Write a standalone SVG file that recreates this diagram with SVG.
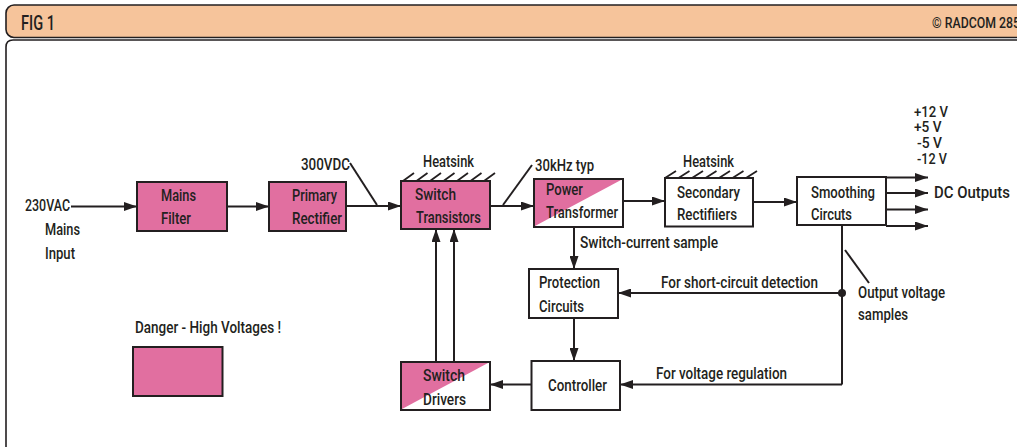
<svg xmlns="http://www.w3.org/2000/svg" width="1017" height="448" viewBox="0 0 1017 448">
  <style>
    .t { font-family: Roboto, "Liberation Sans", Arial, sans-serif; font-weight: 500; font-size: 16px; fill: #231F20; }
    .hd { font-size: 19.5px; }
    .cr { font-size: 15px; }
    .v { font-size: 14px; }
    .box { stroke: #231F20; stroke-width: 2; }
    .pink { fill: #E16FA0; }
    .white { fill: #FFFFFF; }
    .ln { fill: none; stroke: #231F20; stroke-width: 2; }
    .arr { fill: none; stroke: #231F20; stroke-width: 2; marker-end: url(#ah); }
    .hatch { fill: none; stroke: #231F20; stroke-width: 1.8; }
  </style>
  <defs>
    <marker id="ah" viewBox="0 0 13 9" refX="13" refY="4.5" markerWidth="13" markerHeight="9" markerUnits="userSpaceOnUse" orient="auto">
      <path d="M0,0 L13,4.5 L0,9 z" fill="#231F20"/>
    </marker>
  </defs>

  <rect width="1017" height="448" fill="#FFFFFF"/>

  <!-- figure frame: title band and body outline -->
  <g id="frame">
    <rect x="6" y="5" width="1030" height="32.5" rx="8" fill="#F6C49B" stroke="#231F20" stroke-width="1.6"/>
    <path d="M6,447 L6,47 Q6,40 13,40 L1030,40" fill="none" stroke="#231F20" stroke-width="1.6"/>
    <text class="t hd" x="21" y="30" textLength="34" lengthAdjust="spacingAndGlyphs">FIG 1</text>
    <text class="t cr" x="932" y="28" textLength="88" lengthAdjust="spacingAndGlyphs">© RADCOM 285</text>
  </g>

  <!-- connectors -->
  <g id="connectors">
    <path class="arr" d="M71,206.5 L137,206.5"/>
    <path class="arr" d="M227,206.5 L269,206.5"/>
    <path class="arr" d="M346,206 L401,206"/>
    <path class="ln" d="M350,163 L377,205"/>
    <path class="arr" d="M490,206 L534,206"/>
    <path class="ln" d="M503,205 L532,165"/>
    <path class="arr" d="M623,201 L665,201"/>
    <path class="arr" d="M753,202 L797,202"/>
    <path class="arr" d="M886,177.5 L928,177.5"/>
    <path class="arr" d="M886,193 L928,193"/>
    <path class="arr" d="M886,209.5 L928,209.5"/>
    <path class="arr" d="M886,226 L928,226"/>
    <path class="arr" d="M574,227 L574,269"/>
    <path class="arr" d="M574,318 L574,361"/>
    <path class="arr" d="M531,384.5 L490,384.5"/>
    <path class="arr" d="M436,362 L436,229"/>
    <path class="arr" d="M454,362 L454,229"/>
    <path class="ln" d="M842,225 L842,384.5"/>
    <path class="arr" d="M842,384.5 L620,384.5"/>
    <path class="arr" d="M842,293 L618,293"/>
    <circle cx="842" cy="293" r="4" fill="#231F20"/>
    <path class="ln" d="M845,250 L869,283"/>
    <!-- heatsink hatching -->
    <path class="hatch" d="M403,181 l11,-8 M416.5,181 l11,-8 M430,181 l11,-8 M443.5,181 l11,-8 M457,181 l11,-8 M470.5,181 l11,-8 M484,181 l11,-8"/>
    <path class="hatch" d="M665,178 l11,-7 M678.5,178 l11,-7 M692,178 l11,-7 M705.5,178 l11,-7 M719,178 l11,-7 M732.5,178 l11,-7 M746,178 l11,-7"/>
  </g>

  <!-- free labels -->
  <g id="labels">
    <text class="t" x="25" y="211" textLength="45" lengthAdjust="spacingAndGlyphs">230VAC</text>
    <text class="t" x="45" y="235" textLength="35" lengthAdjust="spacingAndGlyphs">Mains</text>
    <text class="t" x="45" y="259" textLength="30" lengthAdjust="spacingAndGlyphs">Input</text>
    <text class="t" x="301" y="170" textLength="49" lengthAdjust="spacingAndGlyphs">300VDC</text>
    <text class="t" x="423" y="167" textLength="51" lengthAdjust="spacingAndGlyphs">Heatsink</text>
    <text class="t" x="535" y="171" textLength="59" lengthAdjust="spacingAndGlyphs">30kHz typ</text>
    <text class="t" x="683" y="167" textLength="51" lengthAdjust="spacingAndGlyphs">Heatsink</text>
    <text class="t v" x="914" y="116.5" textLength="34" lengthAdjust="spacingAndGlyphs">+12 V</text>
    <text class="t v" x="914" y="132" textLength="27.5" lengthAdjust="spacingAndGlyphs">+5 V</text>
    <text class="t v" x="917" y="148" textLength="25" lengthAdjust="spacingAndGlyphs">-5 V</text>
    <text class="t v" x="917" y="163.5" textLength="30" lengthAdjust="spacingAndGlyphs">-12 V</text>
    <text class="t" x="934" y="198" textLength="76" lengthAdjust="spacingAndGlyphs">DC Outputs</text>
    <text class="t" x="580" y="248" textLength="138" lengthAdjust="spacingAndGlyphs">Switch-current sample</text>
    <text class="t" x="661" y="288" textLength="157" lengthAdjust="spacingAndGlyphs">For short-circuit detection</text>
    <text class="t" x="656" y="379" textLength="131" lengthAdjust="spacingAndGlyphs">For voltage regulation</text>
    <text class="t" x="858" y="298" textLength="87" lengthAdjust="spacingAndGlyphs">Output voltage</text>
    <text class="t" x="858" y="320" textLength="50" lengthAdjust="spacingAndGlyphs">samples</text>
    <text class="t" x="135" y="333" textLength="146" lengthAdjust="spacingAndGlyphs">Danger - High Voltages !</text>
  </g>

  <g id="mains-filter">
    <rect class="box pink" x="137" y="182" width="90" height="49"/>
    <text class="t" x="161" y="200.5" textLength="35" lengthAdjust="spacingAndGlyphs">Mains</text>
    <text class="t" x="161" y="223.5" textLength="30" lengthAdjust="spacingAndGlyphs">Filter</text>
  </g>

  <g id="primary-rectifier">
    <rect class="box pink" x="269" y="182" width="77" height="49"/>
    <text class="t" x="292" y="200.5" textLength="45" lengthAdjust="spacingAndGlyphs">Primary</text>
    <text class="t" x="292" y="223.5" textLength="50" lengthAdjust="spacingAndGlyphs">Rectifier</text>
  </g>

  <g id="switch-transistors">
    <rect class="box pink" x="401" y="181" width="89" height="48"/>
    <text class="t" x="415" y="200" textLength="41" lengthAdjust="spacingAndGlyphs">Switch</text>
    <text class="t" x="416" y="223" textLength="65" lengthAdjust="spacingAndGlyphs">Transistors</text>
  </g>

  <g id="power-transformer">
    <rect class="box white" x="534" y="179" width="89" height="48"/>
    <path class="pink" d="M535,180 L621,180 L535,226 z"/>
    <rect x="534" y="179" width="89" height="48" fill="none" stroke="#231F20" stroke-width="2"/>
    <text class="t" x="546" y="195" textLength="37" lengthAdjust="spacingAndGlyphs">Power</text>
    <text class="t" x="546" y="218" textLength="72" lengthAdjust="spacingAndGlyphs">Transformer</text>
  </g>

  <g id="secondary-rectifiers">
    <rect class="box white" x="665" y="178" width="88" height="48.5"/>
    <text class="t" x="677" y="198" textLength="63" lengthAdjust="spacingAndGlyphs">Secondary</text>
    <text class="t" x="677" y="220" textLength="60" lengthAdjust="spacingAndGlyphs">Rectifiiers</text>
  </g>

  <g id="smoothing-circuits">
    <rect class="box white" x="797" y="177" width="89" height="48"/>
    <text class="t" x="811" y="198" textLength="64" lengthAdjust="spacingAndGlyphs">Smoothing</text>
    <text class="t" x="811" y="220" textLength="41" lengthAdjust="spacingAndGlyphs">Circuts</text>
  </g>

  <g id="protection-circuits">
    <rect class="box white" x="529" y="269" width="89" height="49"/>
    <text class="t" x="539" y="288" textLength="61" lengthAdjust="spacingAndGlyphs">Protection</text>
    <text class="t" x="539" y="311.5" textLength="45" lengthAdjust="spacingAndGlyphs">Circuits</text>
  </g>

  <g id="controller">
    <rect class="box white" x="531.5" y="361" width="88.5" height="49"/>
    <text class="t" x="548" y="390.5" textLength="59" lengthAdjust="spacingAndGlyphs">Controller</text>
  </g>

  <g id="switch-drivers">
    <rect class="box white" x="401" y="362" width="89" height="48"/>
    <path class="pink" d="M402,363 L488,363 L402,409 z"/>
    <rect x="401" y="362" width="89" height="48" fill="none" stroke="#231F20" stroke-width="2"/>
    <text class="t" x="423" y="380.5" textLength="42" lengthAdjust="spacingAndGlyphs">Switch</text>
    <text class="t" x="423" y="405" textLength="43" lengthAdjust="spacingAndGlyphs">Drivers</text>
  </g>

  <g id="danger-legend">
    <rect class="box pink" x="133" y="347" width="89.5" height="49"/>
  </g>
</svg>
